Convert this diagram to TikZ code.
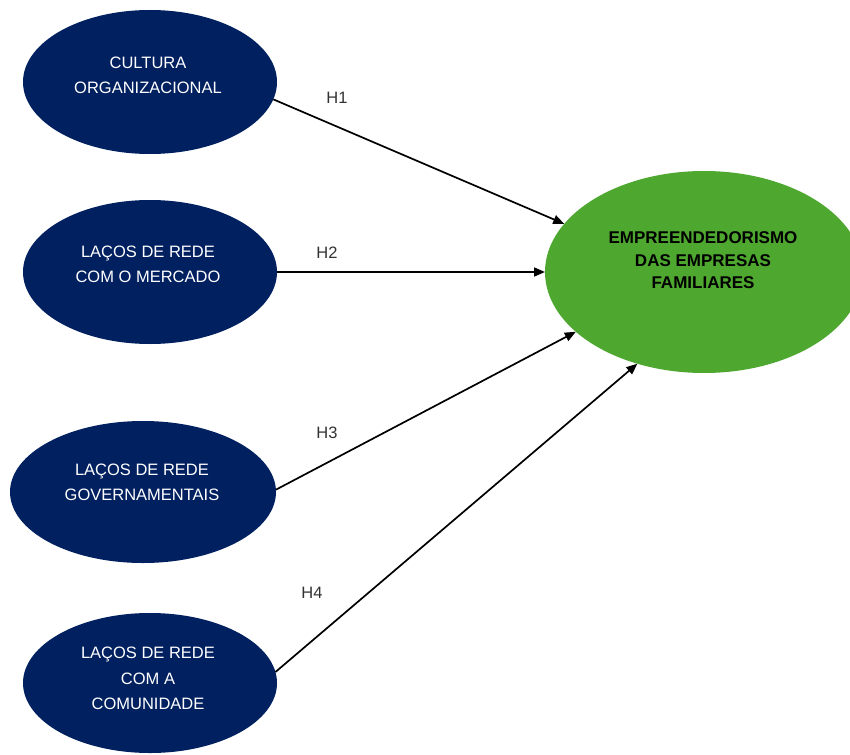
\documentclass[tikz,border=0pt]{standalone}
\usepackage{fontspec}
\setmainfont{Liberation Sans}
\usetikzlibrary{shapes.geometric,arrows.meta}
\definecolor{navy}{RGB}{0,32,96}
\definecolor{leaf}{RGB}{78,167,46}
\definecolor{labelgray}{RGB}{50,50,50}
\tikzset{
  blueell/.style={ellipse,fill=navy,draw=none,inner sep=0pt,outer sep=0pt,minimum width=254pt,minimum height=144pt},
  greenell/.style={ellipse,fill=leaf,draw=none,inner sep=0pt,outer sep=0pt,minimum width=318pt,minimum height=202pt},
  whitetxt/.style={text=white,align=center,inner sep=0pt,font=\fontsize{16.5}{25.5}\selectfont},
  greentxt/.style={text=black,align=center,inner sep=0pt,font=\bfseries\fontsize{17}{22.5}\selectfont},
  hlabel/.style={text=labelgray,inner sep=0pt,font=\fontsize{16.5}{18}\selectfont},
  conn/.style={line width=1.7pt,-{Triangle[length=11pt,width=9pt]}}
}
\begin{document}
\begin{tikzpicture}[x=1pt,y=1pt]
\useasboundingbox (0,0) rectangle (850,-754);
\begin{scope}
\clip (0,0) rectangle (850,-754);
\node[blueell] (c1) at (150,-82) {};
\node[blueell] (c2) at (150,-272) {};
\node[blueell,minimum width=266pt,minimum height=142pt] (c3) at (143,-492) {};
\node[blueell,minimum height=140pt] (c4) at (150,-683) {};
\node[greenell] (g) at (704,-272) {};
\end{scope}
\node[whitetxt] (t1) at (148,-75.5) {CULTURA\\ORGANIZACIONAL};
\node[whitetxt] (t2) at (148,-264.5) {LAÇOS DE REDE\\COM O MERCADO};
\node[whitetxt] (t3) at (142,-482.5) {LAÇOS DE REDE\\GOVERNAMENTAIS};
\node[whitetxt] (t4) at (148,-678.5) {LAÇOS DE REDE\\COM A\\COMUNIDADE};
\node[greentxt] (tg) at (703,-260.5) {EMPREENDEDORISMO\\DAS EMPRESAS\\FAMILIARES};
\draw[conn] (c1.-8.5) -- (g.161.2);
\draw[conn] (c2.east) -- (g.west);
\draw[conn] (c3.1.7) -- (g.205.8);
\draw[conn] (c4.5.8) -- (g.234.8);
\node[hlabel] (h1) at (337,-98) {H1};
\node[hlabel] (h2) at (327,-253) {H2};
\node[hlabel] (h3) at (327,-433) {H3};
\node[hlabel] (h4) at (312,-593) {H4};
\end{tikzpicture}
\end{document}
